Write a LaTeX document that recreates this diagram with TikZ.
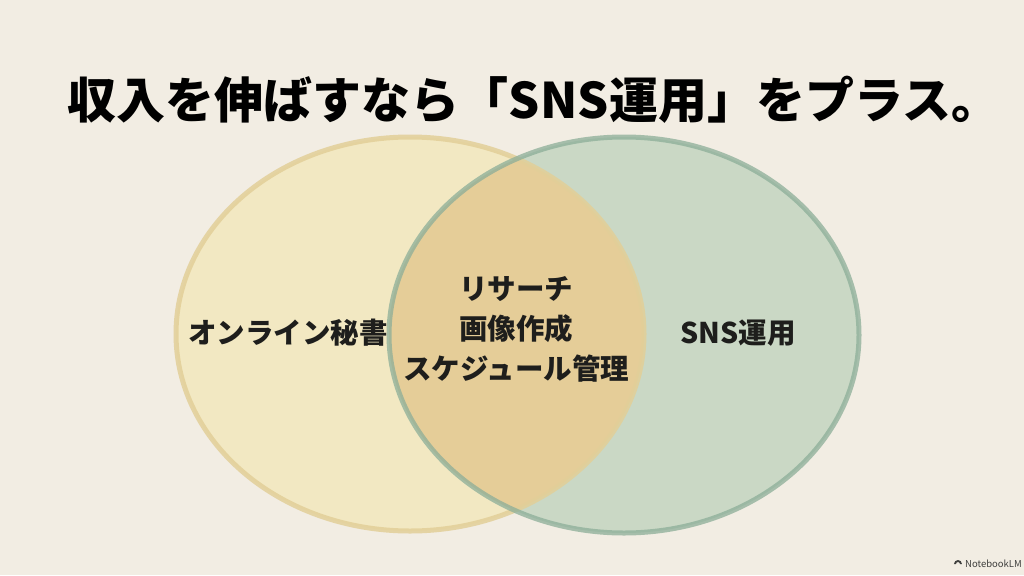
\documentclass[tikz,border=0pt]{standalone}
\usepackage{fontspec}
\setmainfont{Noto Sans CJK JP}
\newfontfamily\titlefont{Noto Sans CJK JP Black}
\definecolor{bg}{HTML}{F2EDE3}
\definecolor{leftfill}{HTML}{F2E8C2}
\definecolor{leftline}{HTML}{E2CF98}
\definecolor{rightfill}{HTML}{CAD8C5}
\definecolor{rightline}{HTML}{8CAE98}
\definecolor{overlapfill}{HTML}{E5CD98}
\definecolor{ink}{HTML}{1E1E1C}
\tikzset{
  titletext/.style={font=\fontsize{49}{54}\selectfont\titlefont, text=black, inner sep=0pt},
  label/.style={font=\fontsize{28.5}{40}\selectfont\bfseries, text=ink, align=center, inner sep=0pt},
  ring/.style={line width=5pt}
}
\begin{document}
\begin{tikzpicture}[x=1pt,y=-1pt]
\fill[bg] (0,0) rectangle (1024,575);
\useasboundingbox (0,0) rectangle (1024,575);
% fills
\fill[leftfill] (410,334) ellipse [x radius=234pt, y radius=197pt];
\fill[rightfill] (624,335) ellipse [x radius=235pt, y radius=198pt];
\begin{scope}
  \clip (410,334) ellipse [x radius=234pt, y radius=197pt];
  \fill[overlapfill] (624,335) ellipse [x radius=235pt, y radius=198pt];
\end{scope}
% outlines
\draw[ring, leftline, draw opacity=0.85] (410,334) ellipse [x radius=234pt, y radius=197pt];
\draw[ring, rightline, draw opacity=0.75] (624,335) ellipse [x radius=235pt, y radius=198pt];
% texts
\node[titletext] (title) at (534,100) {収入を伸ばすなら「SNS運用」をプラス。};
\node[label] (left) at (288,333) {オンライン秘書};
\node[label] (center) at (516,329) {リサーチ\\画像作成\\スケジュール管理};
\node[label] (right) at (738,333) {SNS運用};
\node[font=\fontsize{9.5}{12}\selectfont, text=ink!85, anchor=east, inner sep=0pt] (logo) at (1022,564) {NotebookLM};
\coordinate (icon) at ([xshift=-7pt]logo.west);
\fill[ink!85] ([xshift=-4pt]icon) arc[start angle=180, end angle=0, radius=4pt] -- ++(-2pt,0) arc[start angle=0, end angle=180, radius=2pt] -- cycle;
\end{tikzpicture}
\end{document}
